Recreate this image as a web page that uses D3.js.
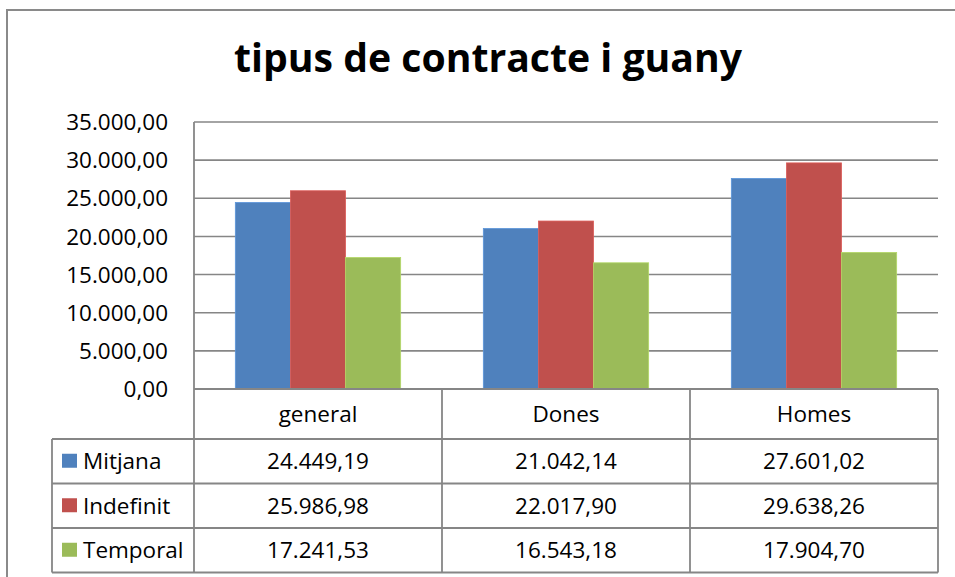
<!DOCTYPE html>
<meta charset="UTF-8">
<html>
  <head>
    <script src="https://d3js.org/d3.v7.min.js" charset="utf-8"></script>
    <style>
      body { margin: 0; background: #fff; }
      svg text { font-family: "Open Sans", "Noto Sans", sans-serif; fill: #000; }
    </style>
  </head>
<body>
<div id="chart"></div>

<script>
// chart data
var categories = ['general', 'Dones', 'Homes'];
var series = ['Mitjana', 'Indefinit', 'Temporal'];
var mitjana = [24449.19, 21042.14, 27601.02];
var indefinit = [25986.98, 22017.90, 29638.26];
var temporal = [17241.53, 16543.18, 17904.70];
var yTicks = [0, 5000, 10000, 15000, 20000, 25000, 30000, 35000];
var colors = ['#4F81BD', '#C0504D', '#9BBB59'];

var values = [mitjana, indefinit, temporal];

var W = 955, H = 577;
var svg = d3.select('#chart').append('svg')
    .attr('width', W).attr('height', H);

// outer chart border (runs off the picture right and bottom)
svg.append('rect')
    .attr('x', 7).attr('y', 10)
    .attr('width', 1000).attr('height', 1000)
    .attr('fill', 'none')
    .attr('stroke', '#8a8a8a')
    .attr('stroke-width', 2);

svg.append('text')
    .attr('x', 488).attr('y', 72)
    .attr('text-anchor', 'middle')
    .attr('font-size', 40)
    .attr('font-weight', 'bold')
    .attr('textLength', 508)
    .attr('lengthAdjust', 'spacingAndGlyphs')
    .text('tipus de contracte i guany');

var plotLeft = 194, plotRight = 938, plotTop = 122, plotBottom = 389;

var y = d3.scaleLinear().domain([0, 35000]).range([plotBottom, plotTop]);
var x = d3.scaleBand().domain(categories).range([plotLeft, plotRight]);
var xs = d3.scaleBand().domain(series).range([0, x.bandwidth()])
    .paddingInner(0).paddingOuter(0.75);

var cat = d3.formatLocale({decimal: ',', thousands: '.', grouping: [3], currency: ['', '']});
var fmt = cat.format(',.2f');

var gridColor = '#868686';

// gridlines
svg.append('g').selectAll('line')
    .data(yTicks)
    .enter()
  .append('line')
    .attr('x1', plotLeft).attr('x2', plotRight)
    .attr('y1', function (d) { return y(d); })
    .attr('y2', function (d) { return y(d); })
    .attr('stroke', gridColor)
    .attr('stroke-width', 1.6);

// y labels
svg.append('g').selectAll('text')
    .data(yTicks)
    .enter()
  .append('text')
    .attr('x', 168)
    .attr('y', function (d) { return y(d); })
    .attr('dy', '0.36em')
    .attr('text-anchor', 'end')
    .attr('font-size', 22.5)
    .text(function (d) { return fmt(d); });

// bars
series.forEach(function (s, i) {
  svg.append('g').selectAll('rect')
      .data(categories)
      .enter()
    .append('rect')
      .attr('x', function (c) { return x(c) + xs(s); })
      .attr('width', xs.bandwidth())
      .attr('y', function (c, j) { return y(values[i][j]); })
      .attr('height', function (c, j) { return y(0) - y(values[i][j]); })
      .attr('fill', colors[i])
      .attr('stroke', d3.color(colors[i]).brighter(0.4))
      .attr('stroke-width', 0.8);
});

// data table under the plot
var rowTop = [389, 439, 483.5, 528, 572.5];
var legendLeft = 52;
var lines = svg.append('g')
    .attr('stroke', gridColor)
    .attr('stroke-width', 1.8);

// y axis line, going down through the table
lines.append('line')
    .attr('x1', plotLeft).attr('x2', plotLeft)
    .attr('y1', plotTop).attr('y2', rowTop[4]);
lines.append('line')
    .attr('x1', plotLeft).attr('x2', plotRight)
    .attr('y1', y(0)).attr('y2', y(0));
categories.forEach(function (c) {
  lines.append('line')
      .attr('x1', x(c) + x.bandwidth()).attr('x2', x(c) + x.bandwidth())
      .attr('y1', rowTop[0]).attr('y2', rowTop[4]);
});
lines.append('line')
    .attr('x1', legendLeft).attr('x2', legendLeft)
    .attr('y1', rowTop[1]).attr('y2', rowTop[4]);
for (var r = 1; r < rowTop.length; r++) {
  lines.append('line')
      .attr('x1', legendLeft).attr('x2', plotRight)
      .attr('y1', rowTop[r]).attr('y2', rowTop[r]);
}

// category header
svg.append('g').selectAll('text')
    .data(categories)
    .enter()
  .append('text')
    .attr('x', function (c) { return x(c) + x.bandwidth() / 2; })
    .attr('y', (rowTop[0] + rowTop[1]) / 2)
    .attr('dy', '0.36em')
    .attr('text-anchor', 'middle')
    .attr('font-size', 22.5)
    .text(function (c) { return c; });

// value rows
series.forEach(function (s, i) {
  var cy = (rowTop[i + 1] + rowTop[i + 2]) / 2;
  var row = svg.append('g');
  row.append('rect')
      .attr('x', 62).attr('y', cy - 7.5)
      .attr('width', 15).attr('height', 14)
      .attr('fill', colors[i]);
  row.append('text')
      .attr('x', 83).attr('y', cy)
      .attr('dy', '0.36em')
      .attr('font-size', 22.5)
      .text(s);
  row.selectAll('text.v')
      .data(categories)
      .enter()
    .append('text')
      .attr('class', 'v')
      .attr('x', function (c) { return x(c) + x.bandwidth() / 2; })
      .attr('y', cy)
      .attr('dy', '0.36em')
      .attr('text-anchor', 'middle')
      .attr('font-size', 22.5)
      .text(function (c, j) { return fmt(values[i][j]); });
});
</script>
</body>
</html>
